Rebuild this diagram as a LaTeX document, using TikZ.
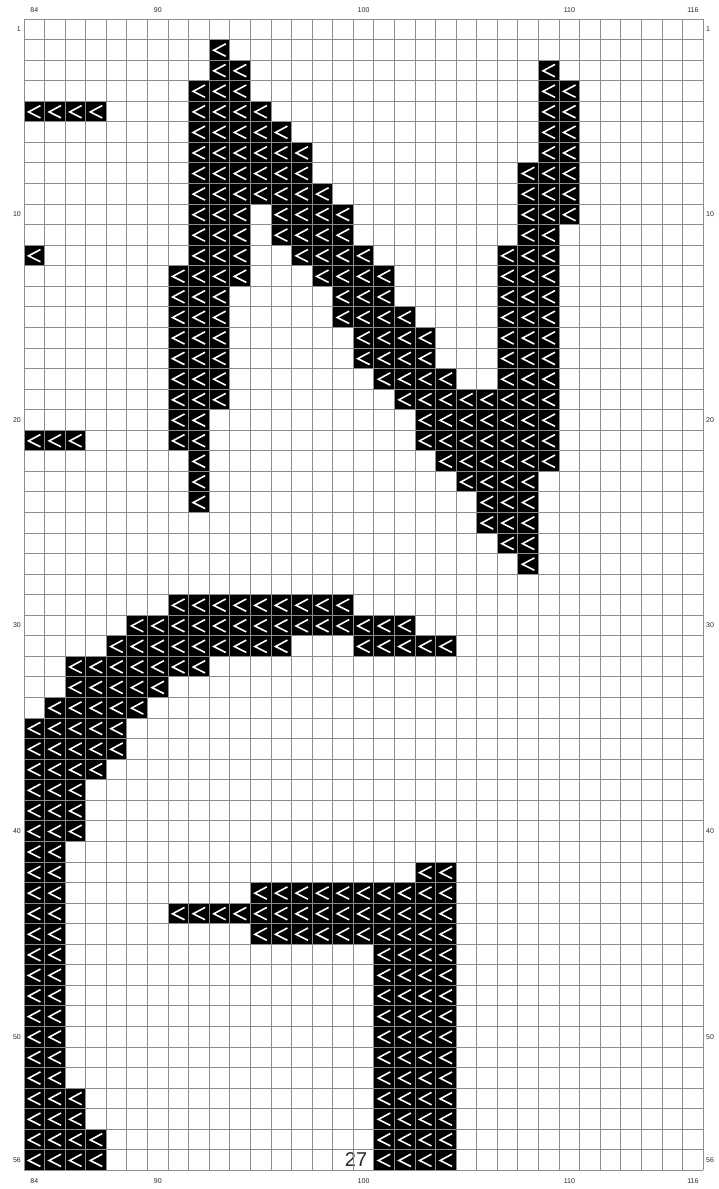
\documentclass[tikz,border=0pt]{standalone}
\usepackage{fontspec}
\setmainfont{Liberation Sans}
\definecolor{gridgray}{RGB}{140,140,140}
\definecolor{labelgray}{RGB}{40,40,40}
\tikzset{
  axislabel/.style={font=\fontsize{7}{8}\selectfont, text=labelgray, inner sep=0pt},
  cellfill/.style={fill=black},
  chevron/.style={draw=white, line width=1.6pt, line join=miter},
  gridline/.style={draw=gridgray, line width=0.9pt}
}
\begin{document}
\begin{tikzpicture}[x=1pt,y=-1pt]
\useasboundingbox (0,0) rectangle (719,1189);
\def\X{24}\def\Y{19}\def\S{20.58}\def\T{20.56}
% page number
\node[font=\fontsize{20}{22}\selectfont, text=labelgray, inner sep=0pt] (pg) at (356,1160) {27};
% filled cells: row/first col/last col (col 0 = stitch 84)
\foreach \r/\a/\b in {
 2/9/9, 3/9/10, 3/25/25, 4/8/10, 4/25/26,
 5/0/3, 5/8/11, 5/25/26, 6/8/12, 6/25/26, 7/8/13, 7/25/26,
 8/8/13, 8/24/26, 9/8/14, 9/24/26,
 10/8/10, 10/12/15, 10/24/26, 11/8/10, 11/12/15, 11/24/25,
 12/0/0, 12/8/10, 12/13/16, 12/23/25,
 13/7/10, 13/14/17, 13/23/25, 14/7/9, 14/15/17, 14/23/25,
 15/7/9, 15/15/18, 15/23/25, 16/7/9, 16/16/19, 16/23/25,
 17/7/9, 17/16/19, 17/23/25, 18/7/9, 18/17/20, 18/23/25,
 19/7/9, 19/18/25, 20/7/8, 20/19/25, 21/0/2, 21/7/8, 21/19/25,
 22/8/8, 22/20/25, 23/8/8, 23/21/24, 24/8/8, 24/22/24,
 25/22/24, 26/23/24, 27/24/24,
 29/7/15, 30/5/18, 31/4/12, 31/16/20, 32/2/8, 33/2/6, 34/1/5,
 35/0/4, 36/0/4, 37/0/3, 38/0/2, 39/0/2, 40/0/2, 41/0/1,
 42/0/1, 42/19/20, 43/0/1, 43/11/20, 44/0/1, 44/7/20, 45/0/1, 45/11/20,
 46/0/1, 46/17/20, 47/0/1, 47/17/20, 48/0/1, 48/17/20, 49/0/1, 49/17/20,
 50/0/1, 50/17/20, 51/0/1, 51/17/20, 52/0/1, 52/17/20,
 53/0/2, 53/17/20, 54/0/2, 54/17/20, 55/0/3, 55/17/20, 56/0/3, 56/17/20}{
  \foreach \c in {\a,...,\b}{
    \fill[cellfill] ({\X+\c*\S},{\Y+(\r-1)*\T}) rectangle ++(\S,\T);
    \draw[chevron] ({\X+(\c+0.8)*\S},{\Y+(\r-1+0.21)*\T}) -- ++({-0.58*\S},{0.31*\T}) -- ++({0.58*\S},{0.29*\T});
  }
}
% grid
\foreach \i in {0,...,33}{
  \draw[gridline] ({\X+\i*\S},\Y) -- ({\X+\i*\S},{\Y+56*\T});
}
\foreach \j in {0,...,56}{
  \draw[gridline] (\X,{\Y+\j*\T}) -- ({\X+33*\S},{\Y+\j*\T});
}
% column labels
\foreach \c/\t in {0/84, 6/90, 16/100, 26/110, 32/116}{
  \node[axislabel] (top\t) at ({\X+(\c+0.5)*\S},10) {\t};
  \node[axislabel] (bot\t) at ({\X+(\c+0.5)*\S},1181) {\t};
}
% row labels
\foreach \r in {1,10,20,30,40,50,56}{
  \node[axislabel, anchor=east] (lft\r) at (21,{\Y+(\r-0.5)*\T}) {\r};
  \node[axislabel, anchor=west] (rgt\r) at (706,{\Y+(\r-0.5)*\T}) {\r};
}
\end{tikzpicture}
\end{document}
